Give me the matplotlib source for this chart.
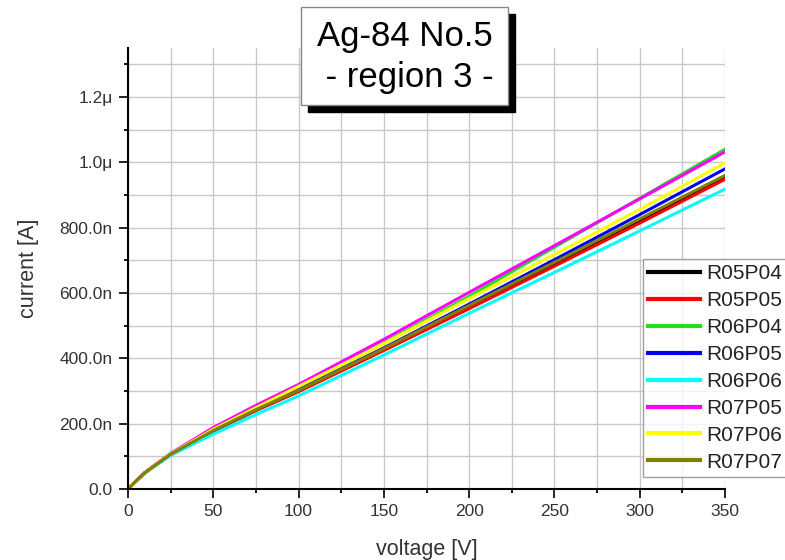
import matplotlib
matplotlib.use('Agg')
import matplotlib.pyplot as plt
from matplotlib.patches import Rectangle
from matplotlib.ticker import MultipleLocator

plt.rcParams['font.family'] = ['Liberation Sans', 'DejaVu Sans']

# voltage [V] and current [nA]
voltage = [0, 5, 10, 15, 25, 50, 75, 100, 150, 200, 250, 300, 350]

r05p04 = [0, 26, 50, 69, 106, 178, 242, 300, 428, 557, 688, 820, 955]
r05p05 = [0, 26, 50, 69, 106, 177, 240, 298, 424, 552, 682, 814, 948]
r06p04 = [0, 26, 50, 70, 107, 184, 250, 313, 447, 590, 740, 890, 1040]
r06p05 = [0, 26, 50, 69, 106, 179, 244, 304, 432, 566, 702, 840, 980]
r06p06 = [0, 25, 49, 67, 103, 168, 228, 285, 410, 538, 663, 790, 918]
r07p05 = [0, 26, 51, 71, 109, 188, 256, 320, 458, 602, 745, 888, 1032]
r07p06 = [0, 26, 50, 70, 107, 183, 249, 314, 445, 583, 718, 856, 998]
r07p07 = [0, 26, 50, 69, 106, 179, 243, 302, 430, 562, 694, 827, 960]

names = ['R05P04', 'R05P05', 'R06P04', 'R06P05', 'R06P06', 'R07P05', 'R07P06', 'R07P07']
series = [r05p04, r05p05, r06p04, r06p05, r06p06, r07p05, r07p06, r07p07]
colors = ['#000000', '#ff0000', '#22dd22', '#0000ee', '#00ffff', '#ff00ff', '#ffff00', '#808000']

yticks = [0, 200, 400, 600, 800, 1000, 1200]
ylabels = ['0.0', '200.0n', '400.0n', '600.0n', '800.0n', '1.0\u03bc', '1.2\u03bc']

fig = plt.figure(figsize=(7.85, 5.6), dpi=100)
ax = fig.add_axes([128/785, 1 - 489/560, 597/785, 441/560])

for name, vals, c in zip(names, series, colors):
    ax.plot(voltage, vals, color=c, lw=2.2, label=name)

ax.set_xlim(0, 350)
ax.set_ylim(0, 1350)
ax.xaxis.set_major_locator(MultipleLocator(50))
ax.xaxis.set_minor_locator(MultipleLocator(25))
ax.set_yticks(yticks)
ax.set_yticklabels(ylabels)
ax.yaxis.set_minor_locator(MultipleLocator(100))
ax.grid(True, which='both', color='#c8c8c8', lw=1)
ax.set_axisbelow(True)

for s in ['top', 'right']:
    ax.spines[s].set_visible(False)
for s in ['left', 'bottom']:
    ax.spines[s].set_linewidth(1.5)
ax.tick_params(which='major', direction='out', length=6.5, width=1.3, pad=4.5,
               labelsize=12.5, colors='#111111', labelcolor='#333333')
ax.tick_params(which='minor', direction='out', length=3.2, width=1.3)

ax.set_xlabel('voltage [V]', fontsize=15.5, labelpad=14, color='#333333')
ax.set_ylabel('current [A]', fontsize=15.5, labelpad=15, color='#333333')

leg = ax.legend(loc='upper left', bbox_to_anchor=(643/785, 1 - 259/560), bbox_transform=fig.transFigure,
                borderaxespad=0, fontsize=15, frameon=True, fancybox=False, labelspacing=0.38,
                handlelength=2.5, handletextpad=0.3, borderpad=0.25)
leg.get_frame().set_edgecolor('#888888')
leg.get_frame().set_linewidth(1)
for line in leg.get_lines():
    line.set_linewidth(3)
for t in leg.get_texts():
    t.set_color('#222222')

# title box with shadow
bx, by, bw, bh = 301/785, 1 - 105/560, 207/785, 98/560
fig.patches.append(Rectangle((bx + 7/785, by - 7/560), bw, bh, transform=fig.transFigure,
                             facecolor='black', edgecolor='black', zorder=5))
fig.patches.append(Rectangle((bx, by), bw, bh, transform=fig.transFigure,
                             facecolor='white', edgecolor='#888888', lw=1, zorder=6))
fig.text(bx + bw/2, by + bh/2 - 1/560, 'Ag-84 No.5\n - region 3 -', ha='center', va='center',
         fontsize=25, linespacing=1.3, zorder=7)

fig.savefig('out.png', dpi=100)
